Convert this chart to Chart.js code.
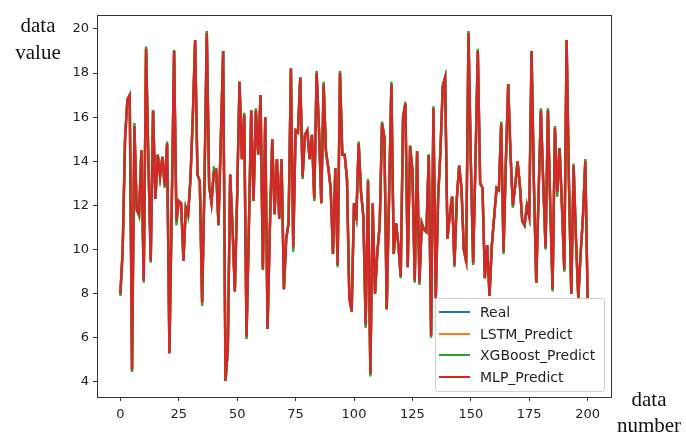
<!DOCTYPE html>
<html>
<head>
<meta charset="utf-8">
<script src="https://cdn.jsdelivr.net/npm/chart.js@4/dist/chart.umd.min.js"></script>
<style>
    body { margin: 0; background: #fff; }
    #wrap { position: relative; width: 686px; height: 434px; }
    .axisTitle {
        position: absolute;
        font-family: "Liberation Serif", "Times New Roman", serif;
        font-size: 21px;
        line-height: 27px;
        color: #111;
        text-align: center;
    }
    #legend {
        position: absolute;
        left: 435px; top: 298px; width: 168px; height: 92px;
        border: 1px solid #d0d0d0;
        border-radius: 3px;
        background: rgba(255, 255, 255, 0.85);
        font-family: "DejaVu Sans", sans-serif;
        font-size: 14px;
        color: #222;
    }
    .legendRow { position: absolute; left: 0; height: 18px; width: 100%; }
    .legendLine { position: absolute; left: 3px; top: 8px; width: 31px; height: 2px; }
    .legendText { position: absolute; left: 44px; top: 0; line-height: 18px; white-space: nowrap; }
</style>
</head>
<body>
<div id="wrap">
    <canvas id="lineChart" width="686" height="434"></canvas>
    <div class="axisTitle" style="left:7px; top:12px; width:62px;">data<br>value</div>
    <div class="axisTitle" style="left:611px; top:386px; width:76px; line-height:26px;">data<br>number</div>
    <div id="legend"></div>
</div>
<script>
// Series (data number 0..200)
const realValues = [
    8.0, 10.0, 15.0, 16.8, 17.0, 4.55, 15.6, 11.8, 11.6, 14.5,
    8.6, 19.1, 14.0, 9.5, 16.3, 12.3, 14.3, 13.3, 14.2, 12.9,
    14.8, 5.3, 12.0, 19.0, 11.3, 12.2, 12.1, 9.5, 11.9, 11.6,
    13.2, 16.0, 19.5, 13.4, 13.1, 7.6, 13.0, 19.8, 12.9, 12.1,
    13.5, 13.6, 11.1, 15.0, 19.0, 4.05, 5.5, 13.4, 11.0, 8.1,
    12.5, 17.6, 14.1, 16.1, 6.05, 11.0, 16.3, 12.2, 16.3, 14.3,
    17.0, 9.1, 16.0, 6.4, 11.0, 15.0, 11.6, 14.1, 11.4, 14.1,
    8.2, 10.5, 11.2, 18.2, 10.1, 15.4, 15.3, 17.8, 13.3, 15.2,
    15.4, 14.1, 15.2, 12.3, 18.0, 15.5, 12.1, 17.5, 14.45, 13.7,
    12.8, 9.8, 13.7, 9.3, 18.0, 14.3, 14.3, 13.2, 7.8, 7.2,
    12.1, 11.5, 14.8, 12.6, 11.5, 6.6, 13.1, 4.35, 12.1, 8.0,
    9.9, 11.1, 15.7, 15.1, 7.3, 12.3, 17.5, 9.8, 11.2, 10.2,
    8.8, 16.0, 16.6, 9.2, 14.7, 13.6, 8.6, 14.45, 8.5, 11.2,
    10.9, 10.8, 14.3, 6.1, 16.4, 7.8, 12.3, 14.5, 17.4, 17.8,
    10.5, 11.6, 12.4, 9.3, 12.3, 13.8, 12.8, 10.0, 9.5, 19.8,
    14.0, 9.4, 14.0, 19.0, 13.0, 12.8, 8.7, 10.2, 7.9, 10.2,
    11.5, 12.8, 12.7, 15.7, 9.9, 14.0, 17.5, 14.3, 12.0, 12.9,
    14.0, 12.9, 11.3, 11.1, 12.0, 11.5, 19.0, 13.0, 8.5, 12.5,
    16.3, 13.0, 10.1, 16.3, 12.0, 8.2, 15.5, 12.6, 14.6, 12.0,
    9.1, 19.5, 13.0, 8.0, 13.8, 10.5, 7.8, 9.8, 11.5, 14.0,
    7.7
];
// LSTM and MLP lie on top of the real curve in the picture
const lstmValues = realValues.slice();
const mlpValues = realValues.slice();
// XGBoost peeks out (green) at a number of peaks and troughs
const xgbValues = [
    7.9, 10.0, 15.0, 16.8, 17.0, 4.45, 15.75, 11.8, 11.5, 14.5,
    8.5, 19.2, 14.0, 9.4, 16.3, 12.3, 14.3, 13.3, 14.2, 12.8,
    14.9, 5.3, 12.0, 19.05, 11.1, 12.2, 12.1, 9.5, 11.9, 11.5,
    13.2, 16.0, 19.5, 13.4, 13.1, 7.45, 13.0, 19.9, 12.9, 12.1,
    13.7, 13.6, 11.1, 15.0, 19.0, 4.05, 5.5, 13.4, 11.0, 8.1,
    12.5, 17.6, 14.2, 16.2, 5.95, 11.0, 16.3, 12.2, 16.4, 14.3,
    17.0, 9.1, 16.0, 6.4, 11.0, 15.0, 11.6, 14.1, 11.4, 14.1,
    8.2, 10.5, 11.2, 18.2, 9.9, 15.4, 15.3, 17.8, 13.2, 15.2,
    15.4, 14.1, 15.2, 12.2, 18.1, 15.5, 12.1, 17.6, 14.45, 13.7,
    12.8, 9.8, 13.7, 9.2, 18.1, 14.3, 14.3, 13.2, 7.8, 7.2,
    12.1, 11.3, 14.9, 12.6, 11.5, 6.45, 13.2, 4.25, 11.9, 8.0,
    9.9, 11.1, 15.8, 15.1, 7.3, 12.3, 17.6, 9.8, 11.2, 10.2,
    8.7, 16.0, 16.7, 9.2, 14.7, 13.6, 8.5, 14.45, 8.4, 11.2,
    10.9, 10.8, 14.3, 6.0, 16.5, 7.8, 12.3, 14.5, 17.4, 17.8,
    10.5, 11.6, 12.4, 9.2, 12.3, 13.8, 12.8, 10.0, 9.4, 19.9,
    14.0, 9.3, 14.0, 19.1, 13.0, 12.8, 8.7, 10.2, 7.9, 10.2,
    11.5, 12.6, 12.7, 15.8, 9.8, 14.0, 17.5, 14.3, 11.9, 12.9,
    14.0, 12.9, 11.3, 11.1, 12.0, 11.5, 19.0, 13.0, 8.5, 12.5,
    16.4, 13.0, 10.0, 16.4, 12.0, 8.1, 15.6, 12.4, 14.6, 12.0,
    9.0, 19.5, 13.0, 8.0, 13.9, 10.5, 7.8, 9.8, 11.5, 14.1,
    7.7
];

const seriesNames = ['Real', 'LSTM_Predict', 'XGBoost_Predict', 'MLP_Predict'];
const seriesColors = ['#1f77b4', '#ff7f0e', '#2ca02c', '#d62728'];
const seriesData = [realValues, lstmValues, xgbValues, mlpValues];

const xTickValues = [0, 25, 50, 75, 100, 125, 150, 175, 200];
const yTickValues = [4, 6, 8, 10, 12, 14, 16, 18, 20];

// data numbers 0..200
const dataNumbers = realValues.map((v, i) => i);

// matplotlib style box round the plot area
const frameBox = {
    id: 'frameBox',
    afterDraw(chart) {
        const a = chart.chartArea;
        const ctx = chart.ctx;
        ctx.save();
        ctx.strokeStyle = '#333';
        ctx.lineWidth = 1;
        ctx.strokeRect(Math.round(a.left) + 0.5, Math.round(a.top) + 0.5,
            Math.round(a.right - a.left), Math.round(a.bottom - a.top));
        ctx.restore();
    }
};

const tickFont = { family: '"DejaVu Sans", sans-serif', size: 13 };

const chart = new Chart(document.getElementById('lineChart'), {
    type: 'line',
    data: {
        datasets: seriesNames.map((name, k) => ({
            label: name,
            data: seriesData[k].map((v, i) => ({ x: dataNumbers[i], y: v })),
            borderColor: seriesColors[k],
            backgroundColor: seriesColors[k],
            borderWidth: 2.4,
            pointRadius: 0,
            tension: 0,
            fill: false,
            order: seriesNames.length - 1 - k
        }))
    },
    options: {
        responsive: false,
        animation: false,
        layout: { padding: { left: 0, top: 15, right: 75, bottom: 0 } },
        plugins: {
            legend: { display: false },
            tooltip: { enabled: false }
        },
        scales: {
            x: {
                type: 'linear',
                min: -10,
                max: 210,
                afterFit(scale) { scale.height = 37; },
                afterBuildTicks(scale) { scale.ticks = xTickValues.map(v => ({ value: v })); },
                grid: { display: true, drawOnChartArea: false, drawTicks: true, tickLength: 4, color: '#333' },
                border: { display: true, color: '#333' },
                ticks: { font: tickFont, color: '#222', padding: 6, maxRotation: 0 }
            },
            y: {
                type: 'linear',
                min: 3.32,
                max: 20.63,
                afterFit(scale) { scale.width = 97; },
                afterBuildTicks(scale) { scale.ticks = yTickValues.map(v => ({ value: v })); },
                grid: { display: true, drawOnChartArea: false, drawTicks: true, tickLength: 4, color: '#333' },
                border: { display: true, color: '#333' },
                ticks: { font: tickFont, color: '#222', padding: 4 }
            }
        }
    },
    plugins: [frameBox]
});

// legend box inside the lower right of the plot
const legendBox = document.getElementById('legend');
seriesNames.forEach((name, k) => {
    const row = document.createElement('div');
    row.className = 'legendRow';
    row.style.top = (4 + k * 21.7) + 'px';
    row.innerHTML = '<div class="legendLine" style="background:' + seriesColors[k] + '"></div>' +
        '<div class="legendText">' + name + '</div>';
    legendBox.appendChild(row);
});
</script>
</body>
</html>
